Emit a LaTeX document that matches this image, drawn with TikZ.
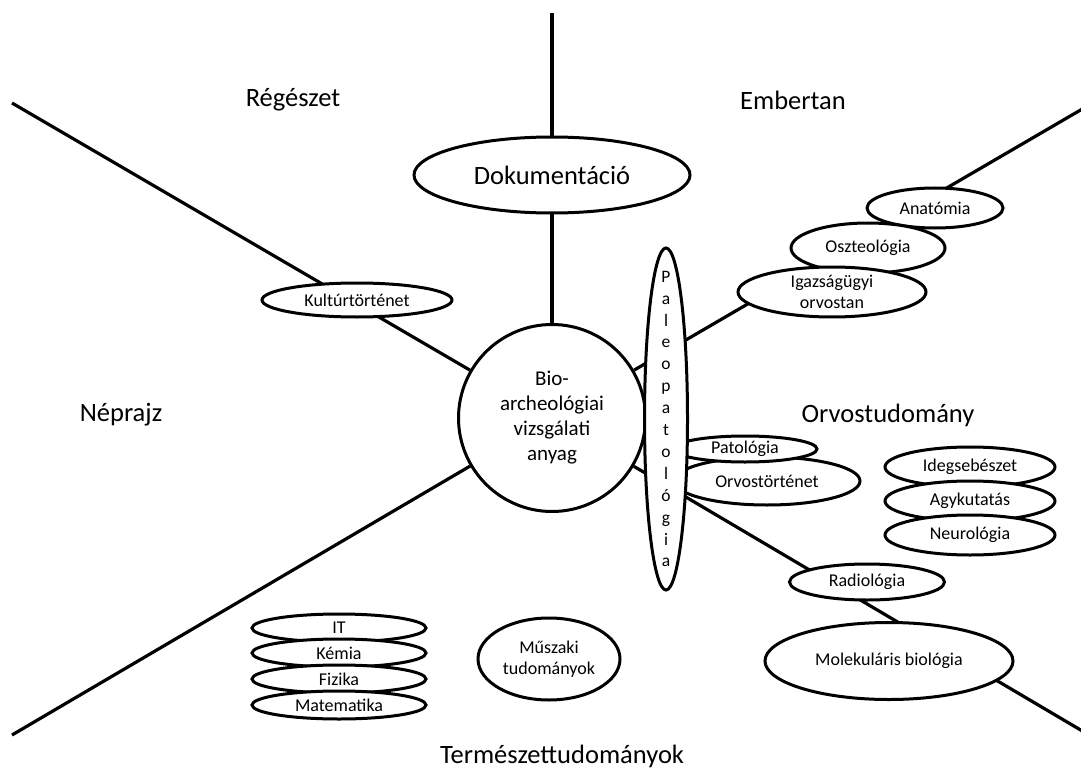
\documentclass[tikz,border=0pt]{standalone}
\usepackage{fontspec}
\setmainfont{Carlito}
\usetikzlibrary{shapes.geometric,backgrounds}
\newcommand\fieldfont{\fontsize{26.5}{30}\selectfont}
\newcommand\topicfont{\fontsize{18}{21}\selectfont}
\newcommand\corefont{\fontsize{21}{25}\selectfont}
\newcommand\paleofont{\fontsize{17.5}{21.9}\selectfont}
\tikzset{
  topic/.style ={ellipse, draw=black, line width=3pt, fill=white,
                 inner sep=0pt, align=center, font=\topicfont},
  core/.style  ={topic, font=\corefont},
  field/.style ={font=\fieldfont, inner sep=0pt},
  spoke/.style ={line width=3.2pt, draw=black}
}

\begin{document}
\begin{tikzpicture}[x=1pt,y=-1pt]
  \useasboundingbox (0,0) rectangle (1081,778);
  % ---------------- spoke ends ----------------
  \coordinate (ntop) at (552,13);
  \coordinate (nw)   at (12,103);
  \coordinate (sw)   at (12,735);
  \coordinate (ne)   at (1084,108);
  \coordinate (se)   at (1084,732);

  % ---------------- centre ----------------
  \node[topic]  (kult)  at (357,300) [minimum width=190pt, minimum height=34pt] {Kultúrtörténet};
  \node[topic, font=\fieldfont] (dok) at (552,175) [minimum width=276pt, minimum height=76pt] {Dokumentáció};
  \node[core]   (bio)   at (552,418) [minimum width=187pt, minimum height=187pt]
                        {Bio-\\archeológiai\\vizsgálati\\anyag};

  % ---------------- right ----------------
  \node[topic]  (ortort) at (767,481) [minimum width=186pt, minimum height=48pt] {Orvostörténet};
  \node[topic]  (pato)   at (745,449) [minimum width=144pt, minimum height=26pt] {Patológia};
  \node[topic]  (paleo)  at (666,419) [minimum width=43pt, minimum height=342pt] {};
  \node[font=\paleofont, align=center, inner sep=0pt] (paleotxt) at (paleo)
        {P\\a\\l\\e\\o\\p\\a\\t\\o\\l\\ó\\g\\i\\a};
  \node[topic]  (anat)  at (935,208) [minimum width=136pt, minimum height=40pt] {Anatómia};
  \node[topic]  (oszt)  at (868,248) [minimum width=154pt, minimum height=50pt] {Oszteológia};
  \node[topic]  (igaz)  at (832,292) [minimum width=188pt, minimum height=50pt] {Igazságügyi\\orvostan};
  \node[topic]  (ideg)  at (970,467) [minimum width=170pt, minimum height=40pt] {Idegsebészet};
  \node[topic]  (agy)   at (970,501) [minimum width=170pt, minimum height=40pt] {Agykutatás};
  \node[topic]  (neuro) at (970,535) [minimum width=170pt, minimum height=40pt] {Neurológia};
  \node[topic]  (radio) at (867,582) [minimum width=155pt, minimum height=36pt] {Radiológia};
  \node[topic]  (molbio) at (889,661) [minimum width=248pt, minimum height=77pt] {Molekuláris biológia};

  % ---------------- bottom ----------------
  \node[topic]  (it)    at (339,628) [minimum width=174pt, minimum height=28pt] {IT};
  \node[topic]  (kemia) at (339,653) [minimum width=174pt, minimum height=28pt] {Kémia};
  \node[topic]  (fiz)   at (339,679) [minimum width=174pt, minimum height=28pt] {Fizika};
  \node[topic]  (mat)   at (339,705) [minimum width=174pt, minimum height=28pt] {Matematika};
  \node[topic]  (musz)  at (549,659) [minimum width=142pt, minimum height=82pt] {Műszaki\\tudományok};

  % ---------------- fields ----------------
  \node[field] (reg)  at (293,100) {Régészet};
  \node[field] (emb)  at (793,100) {Embertan};
  \node[field] (nep)  at (121,415) {Néprajz};
  \node[field] (orv)  at (888,415) {Orvostudomány};
  \node[field] (term) at (562,756) {Természettudományok};

  % ---------------- spokes ----------------
  \begin{pgfonlayer}{background}
    \draw[spoke] (ntop) -- (bio);
    \draw[spoke] (nw) -- (bio);
    \draw[spoke] (sw) -- (bio);
    \draw[spoke] (ne) -- (bio);
    \draw[spoke] (se) -- (bio);
  \end{pgfonlayer}
\end{tikzpicture}
\end{document}
